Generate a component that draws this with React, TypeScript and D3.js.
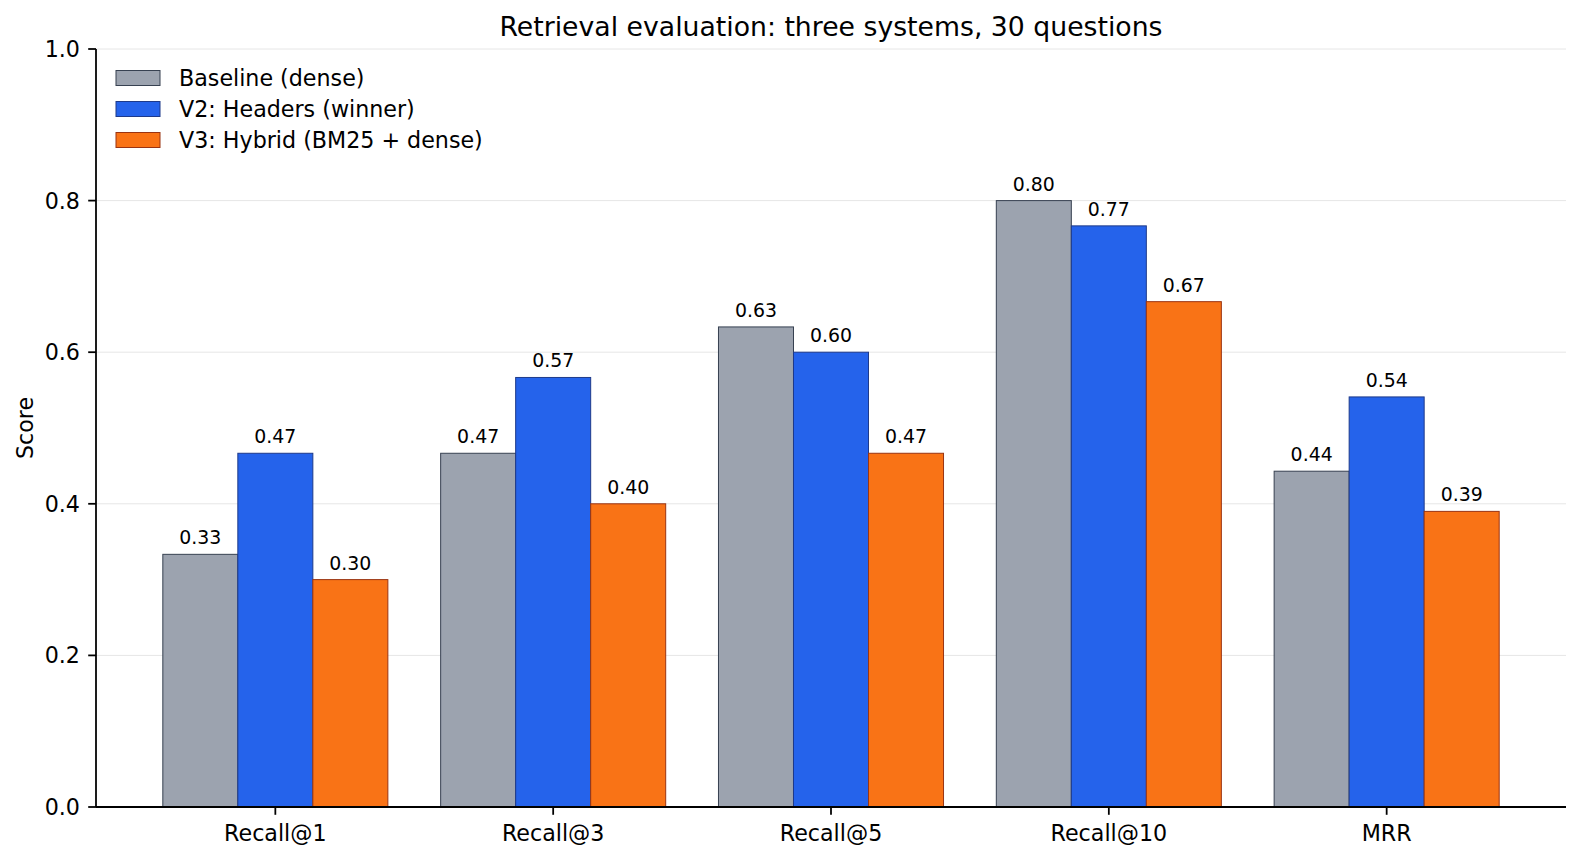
import React from "react";
import * as d3 from "d3";

const categories = ["Recall@1", "Recall@3", "Recall@5", "Recall@10", "MRR"];
const seriesNames = ["Baseline (dense)", "V2: Headers (winner)", "V3: Hybrid (BM25 + dense)"];
const baseline = [10 / 30, 14 / 30, 19 / 30, 24 / 30, 0.443];
const headers = [14 / 30, 17 / 30, 18 / 30, 23 / 30, 0.541];
const hybrid = [9 / 30, 12 / 30, 14 / 30, 20 / 30, 0.39];
const yTicks = [0, 0.2, 0.4, 0.6, 0.8, 1.0];

const fills = ["#9ca3af", "#2563eb", "#f97316"];
const strokes = ["#374151", "#1e3a8a", "#9a3412"];

const W = 1581;
const H = 859;
const FONT = "'DejaVu Sans', sans-serif";
const BAR_W = 0.27;
const TICK_FS = 22.2;

export default function App() {
  const series = [baseline, headers, hybrid];
  const x = d3.scaleLinear().domain([-0.6455, 4.6455]).range([96, 1566]);
  const y = d3.scaleLinear().domain([0, 1]).range([807, 49]);
  const unit = x(1) - x(0);

  return (
    <div style={{ position: "fixed", left: 0, top: 0, background: "#fff" }}>
      <svg width={W} height={H} style={{ display: "block", fontFamily: FONT }}>
        <rect width={W} height={H} fill="#fff" />
        {/* horizontal grid */}
        {yTicks.slice(1).map((t) => (
          <line key={t} x1={x.range()[0]} x2={x.range()[1]} y1={y(t)} y2={y(t)} stroke="#e6e6e6" strokeWidth={1} />
        ))}
        {/* bars */}
        {series.map((vals, s) =>
          vals.map((v, i) => {
            const cx = i + (s - 1) * BAR_W;
            const x0 = x(cx - BAR_W / 2);
            return (
              <g key={`${s}-${i}`}>
                <rect
                  x={x0}
                  y={y(v)}
                  width={BAR_W * unit}
                  height={y(0) - y(v)}
                  fill={fills[s]}
                  stroke={strokes[s]}
                  strokeWidth={1}
                />
                <text x={x(cx)} y={y(v) - 10} textAnchor="middle" fontSize={18.9} fill="#000">
                  {v.toFixed(2)}
                </text>
              </g>
            );
          })
        )}
        {/* axes */}
        <line x1={96} x2={96} y1={y(1)} y2={y(0)} stroke="#000" strokeWidth={1.78} />
        <line x1={96} x2={x.range()[1]} y1={y(0)} y2={y(0)} stroke="#000" strokeWidth={1.78} />
        {yTicks.map((t) => (
          <g key={t}>
            <line x1={88.2} x2={96} y1={y(t)} y2={y(t)} stroke="#000" strokeWidth={1.78} />
            <text x={80} y={y(t)} dy="0.36em" textAnchor="end" fontSize={TICK_FS} fill="#000">
              {t.toFixed(1)}
            </text>
          </g>
        ))}
        {categories.map((c, i) => (
          <g key={c}>
            <line x1={x(i)} x2={x(i)} y1={y(0)} y2={y(0) + 7.8} stroke="#000" strokeWidth={1.78} />
            <text x={x(i)} y={y(0) + 33.5} textAnchor="middle" fontSize={TICK_FS} fill="#000">
              {c}
            </text>
          </g>
        ))}
        <text transform={`translate(33,${(y(0) + y(1)) / 2}) rotate(-90)`} textAnchor="middle" fontSize={TICK_FS} fill="#000">
          Score
        </text>
        <text x={(x.range()[0] + x.range()[1]) / 2} y={36} textAnchor="middle" fontSize={26.7} fill="#000">
          Retrieval evaluation: three systems, 30 questions
        </text>
        {/* legend */}
        {seriesNames.map((n, s) => (
          <g key={n} transform={`translate(116,${78 + s * 31})`}>
            <rect x={0} y={-7.5} width={44} height={15} fill={fills[s]} stroke={strokes[s]} strokeWidth={1} />
            <text x={63} y={0} dy="0.36em" fontSize={TICK_FS} fill="#000">
              {n}
            </text>
          </g>
        ))}
      </svg>
    </div>
  );
}
